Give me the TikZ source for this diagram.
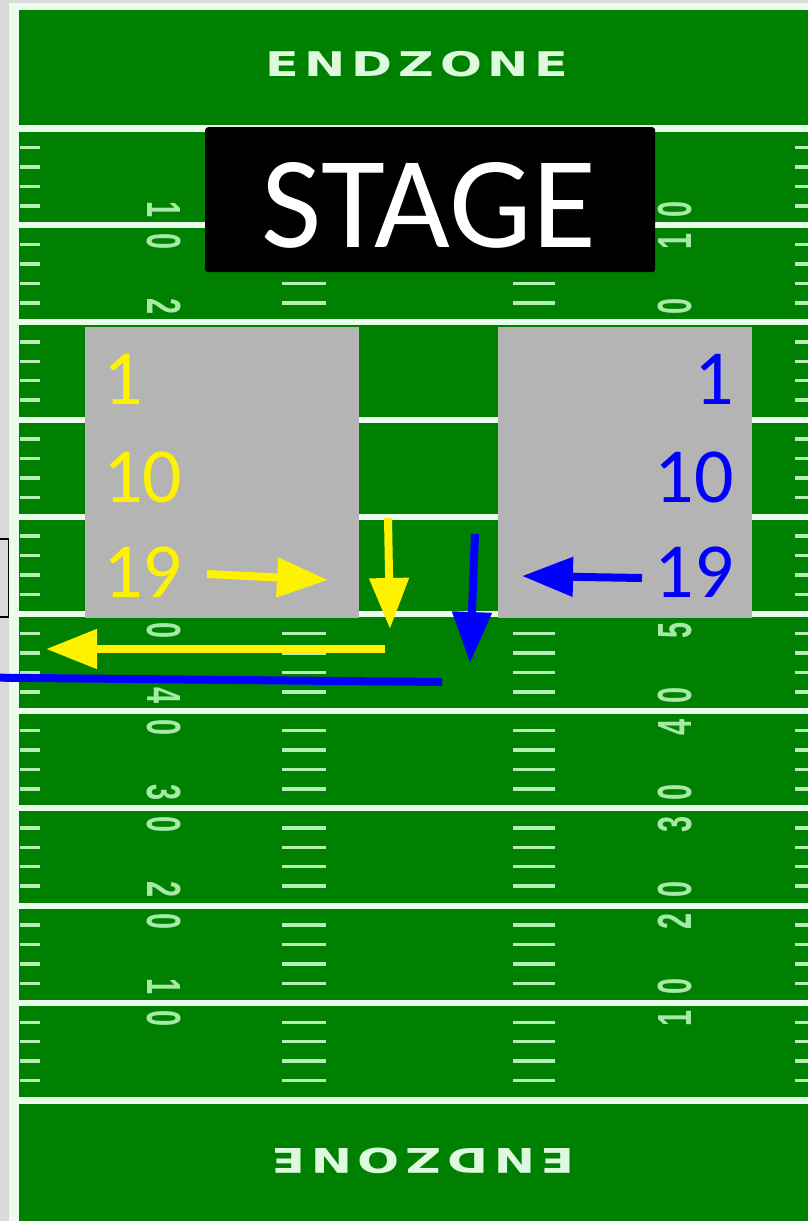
\documentclass[tikz,border=0pt]{standalone}
\usepackage{fontspec}
\setmainfont{Liberation Sans}
\newfontfamily\carlito{Carlito}
\newfontfamily\dejavu{DejaVu Sans}
\usetikzlibrary{arrows.meta}
\definecolor{field}{RGB}{0,128,0}
\definecolor{chalk}{RGB}{236,252,236}
\definecolor{hashc}{RGB}{180,240,180}
\definecolor{numc}{RGB}{165,235,165}
\definecolor{bg}{RGB}{218,218,218}
\definecolor{boxgray}{RGB}{180,180,180}
\definecolor{ezc}{RGB}{222,250,222}
\newcommand{\ezword}{E\hspace{4pt}N\hspace{4pt}D\hspace{4pt}Z\hspace{4pt}O\hspace{4pt}N\hspace{4pt}E}
\begin{document}
\begin{tikzpicture}[x=1pt,y=-1pt,
  yardline/.style={chalk, line width=6pt},
  goalline/.style={chalk, line width=7pt},
  hashmark/.style={hashc, line width=3.5pt},
  fieldnum/.style={text=numc, inner sep=0pt, font=\bfseries\fontsize{48}{48}\selectfont},
  ezlabel/.style={text=ezc, inner sep=0pt, font=\dejavu\bfseries\fontsize{34}{34}\selectfont},
  seatbox/.style={fill=boxgray, draw=none, inner sep=0pt, anchor=north west},
  boxnum/.style={inner sep=0pt, font=\carlito\fontsize{78}{78}\selectfont},
  arrowline/.style={line width=8pt, -{Triangle[length=51pt,width=38pt]}},
]
\useasboundingbox (0,0) rectangle (808,1221);
\clip (0,0) rectangle (808,1221);
\fill[bg] (0,0) rectangle (808,1221);
\fill[chalk] (9,3) rectangle (808,1221);
\fill[field] (19,10) rectangle (808,1221);

% yard lines
\foreach \k in {1,...,9} {
  \draw[yardline] (19,{128+97.2*\k}) -- (808,{128+97.2*\k});
}
\draw[goalline] (19,128) -- (808,128);
\draw[goalline] (19,1100) -- (808,1100);

% hash marks
\foreach \k in {0,...,9} {
  \foreach \j in {1,...,4} {
    \pgfmathsetmacro\yy{128+97.2*\k+19.44*\j}
    \draw[hashmark] (20,\yy) -- (40,\yy);
    \draw[hashmark] (795,\yy) -- (808,\yy);
    \draw[hashmark] (282,\yy) -- (326,\yy);
    \draw[hashmark] (513,\yy) -- (555,\yy);
  }
}

% yard numbers
\foreach \k/\a in {1/1,2/2,3/3,4/4,5/5,6/4,7/3,8/2,9/1} {
  \pgfmathsetmacro\yy{128+97.2*\k}
  \node[fieldnum, rotate=-90] (L\k a) at (164,{\yy-16}) {\scalebox{0.6}[1]{\a}};
  \node[fieldnum, rotate=-90] (L\k b) at (164,{\yy+16}) {\scalebox{0.6}[1]{0}};
  \node[fieldnum, rotate=90] (R\k a) at (675,{\yy+16}) {\scalebox{0.6}[1]{\a}};
  \node[fieldnum, rotate=90] (R\k b) at (675,{\yy-16}) {\scalebox{0.6}[1]{0}};
}

% endzone labels
\node[ezlabel] (eztop) at (417,64) {\scalebox{1.45}[1]{\ezword}};
\node[ezlabel, rotate=180] (ezbot) at (423,1161) {\scalebox{1.45}[1]{\ezword}};

% stage
\node[fill=black, rounded corners=3pt, minimum width=450pt, minimum height=145pt, inner sep=0pt, anchor=north west] (stage) at (205,127) {};
\node[text=white, inner sep=0pt, anchor=base, font=\carlito\fontsize{131}{131}\selectfont] (stagetxt) at (429,247) {STAGE};

% seating boxes
\node[seatbox, minimum width=274pt, minimum height=291pt] (lbox) at (85,327) {};
\node[seatbox, minimum width=254pt, minimum height=291pt] (rbox) at (498,327) {};

\node[boxnum, text=yellow, anchor=base west] (y1) at (103,404) {1};
\node[boxnum, text=yellow, anchor=base west] (y10) at (103,502) {10};
\node[boxnum, text=yellow, anchor=base west] (y19) at (103,597) {19};
\node[boxnum, text=blue, anchor=base east] (b1) at (734,404) {1};
\node[boxnum, text=blue, anchor=base east] (b10) at (734,502) {10};
\node[boxnum, text=blue, anchor=base east] (b19) at (734,597) {19};

% cut-off box at left edge
\node[draw=black, fill=bg, line width=1.2pt, minimum width=40pt, minimum height=78pt, inner sep=0pt, anchor=east] (cutbox) at (9,578) {};

% arrows
\coordinate (ya1s) at (207,574);
\coordinate (ya1e) at (328,580);
\coordinate (ya2s) at (388,518);
\coordinate (ya2e) at (390,629);
\coordinate (ya3s) at (385,649);
\coordinate (ya3e) at (46,649);
\coordinate (ba1s) at (475,534);
\coordinate (ba1e) at (470,663);
\coordinate (ba2s) at (642,578);
\coordinate (ba2e) at (522,576);
\coordinate (ba3s) at (442,682);
\coordinate (ba3e) at (-20,677.5);
\draw[arrowline, yellow] (ya1s) -- (ya1e);
\draw[arrowline, yellow] (ya2s) -- (ya2e);
\draw[arrowline, yellow] (ya3s) -- (ya3e);
\draw[arrowline, blue] (ba1s) -- (ba1e);
\draw[arrowline, blue] (ba2s) -- (ba2e);
\draw[line width=8pt, blue] (ba3s) -- (ba3e);
\end{tikzpicture}
\end{document}
